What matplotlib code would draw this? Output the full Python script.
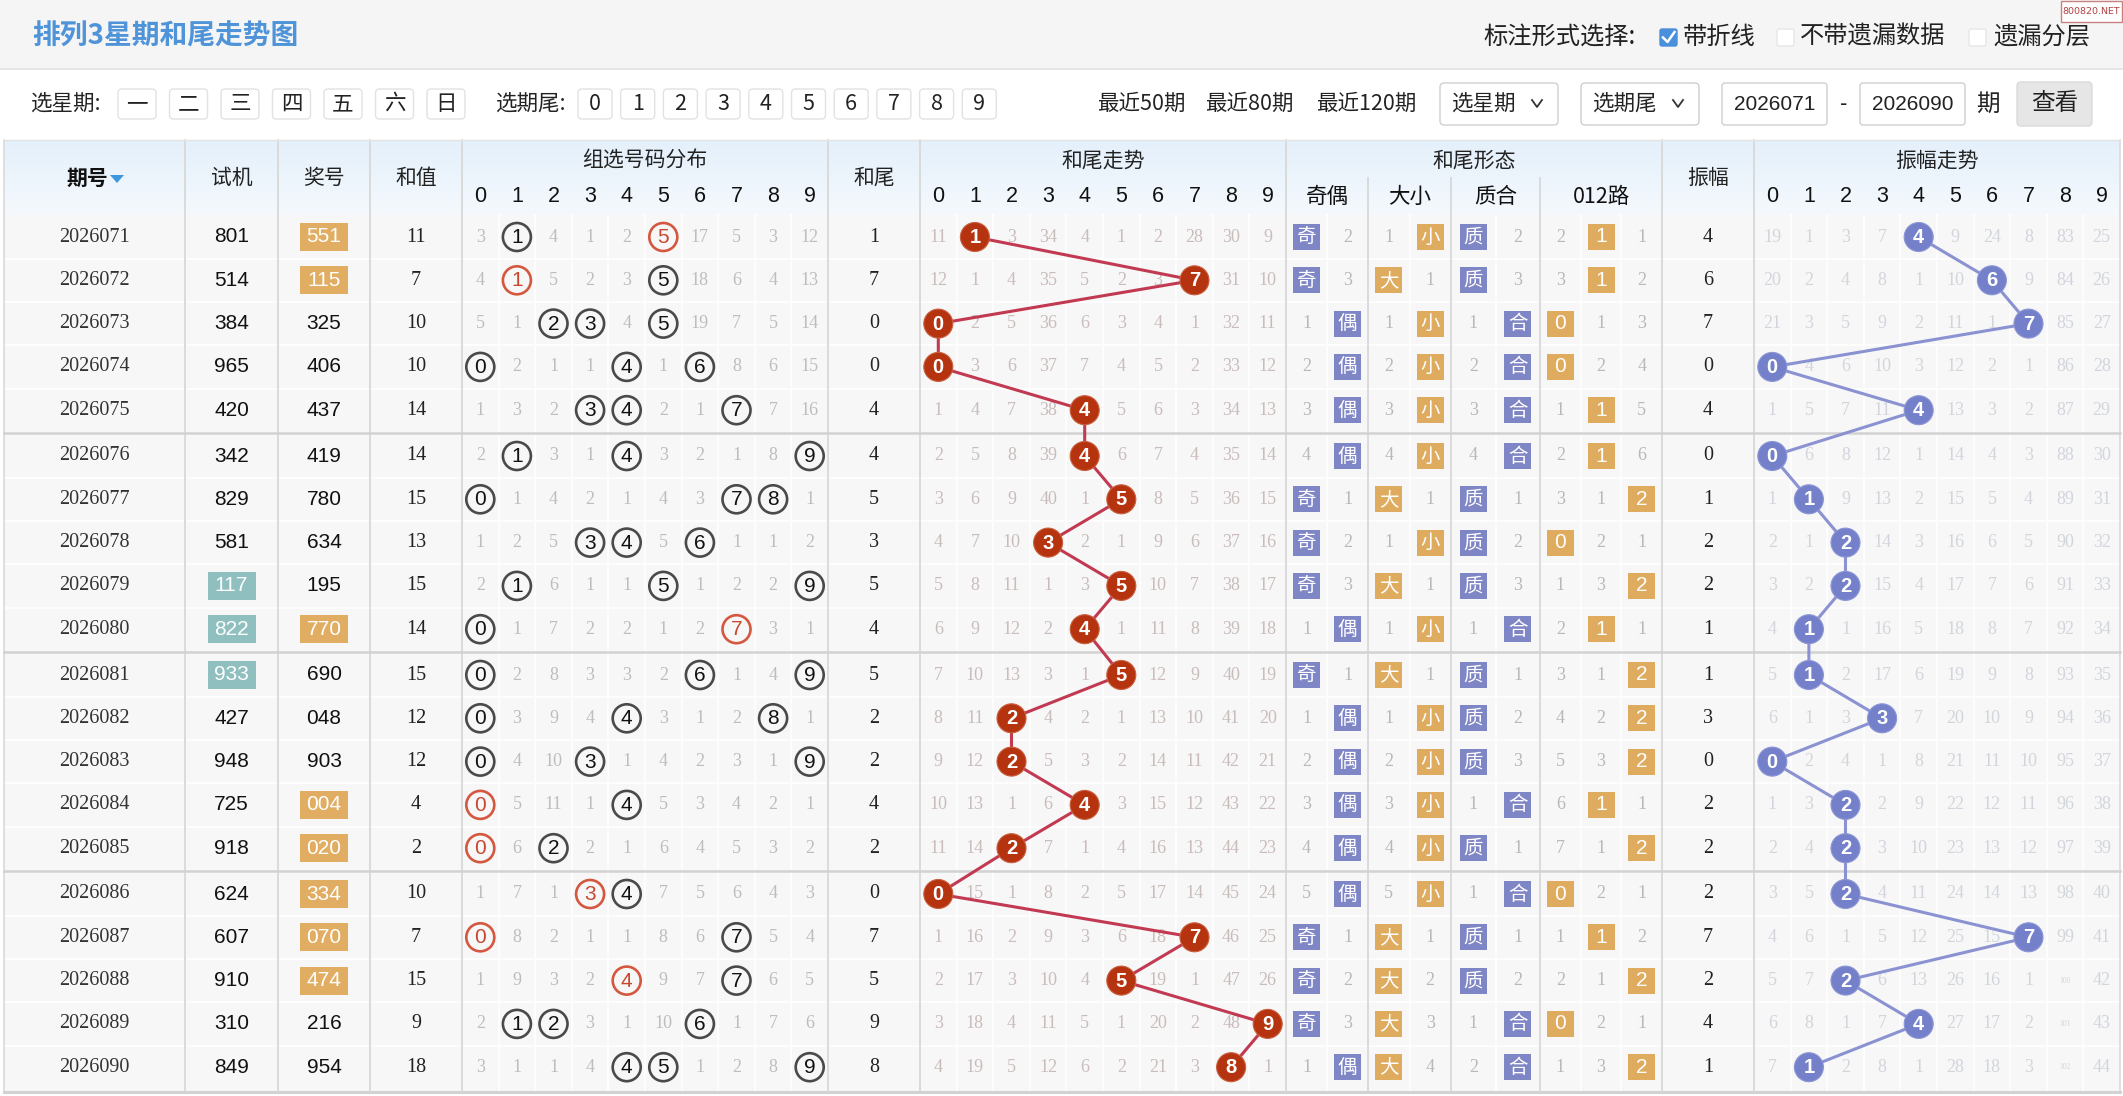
import matplotlib
matplotlib.use('Agg')
import matplotlib.pyplot as plt
from matplotlib.patches import Rectangle, Circle, FancyBboxPatch, Polygon
from matplotlib.colors import LinearSegmentedColormap
import numpy as np

plt.rcParams['font.family'] = ['Noto Sans CJK SC', 'DejaVu Sans']

# ---------------- data ----------------
periods = ['2026071', '2026072', '2026073', '2026074', '2026075', '2026076', '2026077',
           '2026078', '2026079', '2026080', '2026081', '2026082', '2026083', '2026084',
           '2026085', '2026086', '2026087', '2026088', '2026089', '2026090']
trial = ['801', '514', '384', '965', '420', '342', '829', '581', '117', '822',
         '933', '427', '948', '725', '918', '624', '607', '910', '310', '849']
draws = ['551', '115', '325', '406', '437', '419', '780', '634', '195', '770',
         '690', '048', '903', '004', '020', '334', '070', '474', '216', '954']
sums = [11, 7, 10, 10, 14, 14, 15, 13, 15, 14, 15, 12, 12, 4, 2, 10, 7, 15, 9, 18]
tails = [1, 7, 0, 0, 4, 4, 5, 3, 5, 4, 5, 2, 2, 4, 2, 0, 7, 5, 9, 8]
amps = [4, 6, 7, 0, 4, 0, 1, 2, 2, 1, 1, 3, 0, 2, 2, 2, 7, 2, 4, 1]

# omission values (0 marks the hit cell)
zx_miss = [
    [3, 0, 4, 1, 2, 0, 17, 5, 3, 12], [4, 0, 5, 2, 3, 0, 18, 6, 4, 13],
    [5, 1, 0, 0, 4, 0, 19, 7, 5, 14], [0, 2, 1, 1, 0, 1, 0, 8, 6, 15],
    [1, 3, 2, 0, 0, 2, 1, 0, 7, 16], [2, 0, 3, 1, 0, 3, 2, 1, 8, 0],
    [0, 1, 4, 2, 1, 4, 3, 0, 0, 1], [1, 2, 5, 0, 0, 5, 0, 1, 1, 2],
    [2, 0, 6, 1, 1, 0, 1, 2, 2, 0], [0, 1, 7, 2, 2, 1, 2, 0, 3, 1],
    [0, 2, 8, 3, 3, 2, 0, 1, 4, 0], [0, 3, 9, 4, 0, 3, 1, 2, 0, 1],
    [0, 4, 10, 0, 1, 4, 2, 3, 1, 0], [0, 5, 11, 1, 0, 5, 3, 4, 2, 1],
    [0, 6, 0, 2, 1, 6, 4, 5, 3, 2], [1, 7, 1, 0, 0, 7, 5, 6, 4, 3],
    [0, 8, 2, 1, 1, 8, 6, 0, 5, 4], [1, 9, 3, 2, 0, 9, 7, 0, 6, 5],
    [2, 0, 0, 3, 1, 10, 0, 1, 7, 6], [3, 1, 1, 4, 0, 0, 1, 2, 8, 0]]
tail_miss = [
    [11, 0, 3, 34, 4, 1, 2, 28, 30, 9], [12, 1, 4, 35, 5, 2, 3, 0, 31, 10],
    [0, 2, 5, 36, 6, 3, 4, 1, 32, 11], [0, 3, 6, 37, 7, 4, 5, 2, 33, 12],
    [1, 4, 7, 38, 0, 5, 6, 3, 34, 13], [2, 5, 8, 39, 0, 6, 7, 4, 35, 14],
    [3, 6, 9, 40, 1, 0, 8, 5, 36, 15], [4, 7, 10, 0, 2, 1, 9, 6, 37, 16],
    [5, 8, 11, 1, 3, 0, 10, 7, 38, 17], [6, 9, 12, 2, 0, 1, 11, 8, 39, 18],
    [7, 10, 13, 3, 1, 0, 12, 9, 40, 19], [8, 11, 0, 4, 2, 1, 13, 10, 41, 20],
    [9, 12, 0, 5, 3, 2, 14, 11, 42, 21], [10, 13, 1, 6, 0, 3, 15, 12, 43, 22],
    [11, 14, 0, 7, 1, 4, 16, 13, 44, 23], [0, 15, 1, 8, 2, 5, 17, 14, 45, 24],
    [1, 16, 2, 9, 3, 6, 18, 0, 46, 25], [2, 17, 3, 10, 4, 0, 19, 1, 47, 26],
    [3, 18, 4, 11, 5, 1, 20, 2, 48, 0], [4, 19, 5, 12, 6, 2, 21, 3, 0, 1]]
amp_miss = [
    [19, 1, 3, 7, 0, 9, 24, 8, 83, 25], [20, 2, 4, 8, 1, 10, 0, 9, 84, 26],
    [21, 3, 5, 9, 2, 11, 1, 0, 85, 27], [0, 4, 6, 10, 3, 12, 2, 1, 86, 28],
    [1, 5, 7, 11, 0, 13, 3, 2, 87, 29], [0, 6, 8, 12, 1, 14, 4, 3, 88, 30],
    [1, 0, 9, 13, 2, 15, 5, 4, 89, 31], [2, 1, 0, 14, 3, 16, 6, 5, 90, 32],
    [3, 2, 0, 15, 4, 17, 7, 6, 91, 33], [4, 0, 1, 16, 5, 18, 8, 7, 92, 34],
    [5, 0, 2, 17, 6, 19, 9, 8, 93, 35], [6, 1, 3, 0, 7, 20, 10, 9, 94, 36],
    [0, 2, 4, 1, 8, 21, 11, 10, 95, 37], [1, 3, 0, 2, 9, 22, 12, 11, 96, 38],
    [2, 4, 0, 3, 10, 23, 13, 12, 97, 39], [3, 5, 0, 4, 11, 24, 14, 13, 98, 40],
    [4, 6, 1, 5, 12, 25, 15, 0, 99, 41], [5, 7, 0, 6, 13, 26, 16, 1, 100, 42],
    [6, 8, 1, 7, 0, 27, 17, 2, 101, 43], [7, 0, 2, 8, 1, 28, 18, 3, 102, 44]]
oe_miss = [2, 3, 1, 2, 3, 4, 1, 2, 3, 1, 1, 1, 2, 3, 4, 5, 1, 2, 3, 1]
bs_miss = [1, 1, 1, 2, 3, 4, 1, 1, 1, 1, 1, 1, 2, 3, 4, 5, 1, 2, 3, 4]
pc_miss = [2, 3, 1, 2, 3, 4, 1, 2, 3, 1, 1, 2, 3, 1, 1, 1, 1, 2, 1, 2]
r012_miss = [[2, 0, 1], [3, 0, 2], [0, 1, 3], [0, 2, 4], [1, 0, 5], [2, 0, 6], [3, 1, 0],
             [0, 2, 1], [1, 3, 0], [2, 0, 1], [3, 1, 0], [4, 2, 0], [5, 3, 0], [6, 0, 1],
             [7, 1, 0], [0, 2, 1], [1, 0, 2], [2, 1, 0], [0, 2, 1], [1, 3, 0]]
primes = {1, 2, 3, 5, 7}

weekdays = ['一', '二', '三', '四', '五', '六', '日']
tail_buttons = [str(d) for d in range(10)]
digit_labels = [str(d) for d in range(10)]

# ---------------- layout ----------------
W, H = 2123, 1096
fig = plt.figure(figsize=(W / 100, H / 100), dpi=100)
ax = fig.add_axes([0, 0, 1, 1])
ax.set_xlim(0, W)
ax.set_ylim(H, 0)
ax.axis('off')

SERIF = 'Liberation Serif'
SANS = 'Liberation Sans'

Y0, ROW_H, GROUP_H = 237.0, 43.3, 219.0
TOP, HEAD_B, BOT = 140, 215, 1092
LEFT, RIGHT = 4, 2120


def row_y(i):
    return Y0 + GROUP_H * (i // 5) + ROW_H * (i % 5)


cols = {'qh': (LEFT, 185), 'sj': (185, 278), 'jh': (278, 370), 'hz': (370, 462),
        'zx': (462, 828), 'hw': (828, 920), 'hwt': (920, 1286),
        'oe': (1286, 1368), 'bs': (1368, 1451), 'pc': (1451, 1540), 'r012': (1540, 1662),
        'zf': (1662, 1754), 'zft': (1754, RIGHT)}


def cc(key):
    a, b = cols[key]
    return (a + b) / 2


def sub(key, n, k):
    a, b = cols[key]
    return a + (b - a) / n * (k + 0.5)


# ---------------- top band ----------------
ax.add_patch(Rectangle((0, 0), W, 69, fc='#f5f5f5', ec='none', zorder=0))
ax.plot([0, W], [69, 69], color='#e2e2e2', lw=1.2, zorder=1)
ax.text(32, 37, '排列3星期和尾走势图', fontsize=20, fontweight='bold', color='#4f94d8',
        ha='left', va='center')
ax.text(1483, 37, '标注形式选择:', fontsize=17.5, ha='left', va='center', color='#222')
ax.add_patch(FancyBboxPatch((1660, 29), 17, 17, boxstyle='round,pad=0,rounding_size=2',
                            fc='#4a8fdc', ec='#4a8fdc', zorder=2))
ax.plot([1663, 1667.5, 1674.5], [37.5, 42, 32], color='white', lw=1.8, zorder=3)
ax.text(1683, 37, '带折线', fontsize=17.5, ha='left', va='center', color='#222')
ax.add_patch(FancyBboxPatch((1777, 29), 17, 17, boxstyle='round,pad=0,rounding_size=2',
                            fc='white', ec='#e6e6e6', zorder=2))
ax.text(1800, 37, '不带遗漏数据', fontsize=17.5, ha='left', va='center', color='#222')
ax.add_patch(FancyBboxPatch((1969, 29), 17, 17, boxstyle='round,pad=0,rounding_size=2',
                            fc='white', ec='#e6e6e6', zorder=2))
ax.text(1993, 37, '遗漏分层', fontsize=17.5, ha='left', va='center', color='#222')
ax.add_patch(Rectangle((2061, 0.5), 61, 21, fc='white', ec='#c98080', lw=1, zorder=2))
ax.text(2091.5, 11, '800820.NET', fontsize=6.8, color='#b04040', ha='center', va='center',
        family='DejaVu Sans', zorder=3)

# ---------------- controls row ----------------
CY = 104
ax.text(30, CY, '选星期:', fontsize=15.5, ha='left', va='center', color='#222')
for k, lab in enumerate(weekdays):
    x = 137 + 51.5 * k
    ax.add_patch(FancyBboxPatch((x - 19, CY - 15), 38, 30, boxstyle='round,pad=0,rounding_size=4',
                                fc='white', ec='#e2e2e2', lw=1, zorder=2))
    ax.text(x, CY, lab, fontsize=15.5, ha='center', va='center', color='#222', zorder=3)
ax.text(495, CY, '选期尾:', fontsize=15.5, ha='left', va='center', color='#222')
for k, lab in enumerate(tail_buttons):
    x = 595 + 42.7 * k
    ax.add_patch(FancyBboxPatch((x - 17, CY - 15), 34, 30, boxstyle='round,pad=0,rounding_size=4',
                                fc='white', ec='#e2e2e2', lw=1, zorder=2))
    ax.text(x, CY, lab, fontsize=15.5, ha='center', va='center', color='#222', zorder=3)
for x, lab in [(1097, '最近50期'), (1205, '最近80期'), (1316, '最近120期')]:
    ax.text(x, CY, lab, fontsize=15.5, ha='left', va='center', color='#222')
for x0, x1, lab in [(1440, 1558, '选星期'), (1581, 1699, '选期尾')]:
    ax.add_patch(FancyBboxPatch((x0, CY - 21), x1 - x0, 42, boxstyle='round,pad=0,rounding_size=4',
                                fc='white', ec='#cfcfcf', lw=1, zorder=2))
    ax.text(x0 + 11, CY, lab, fontsize=15.5, ha='left', va='center', color='#222', zorder=3)
    ax.plot([x1 - 26, x1 - 21, x1 - 16], [CY - 4, CY + 3, CY - 4], color='#333', lw=1.3, zorder=3)
for x0, x1, lab in [(1722, 1827, '2026071'), (1860, 1965, '2026090')]:
    ax.add_patch(FancyBboxPatch((x0, CY - 21), x1 - x0, 42, boxstyle='round,pad=0,rounding_size=3',
                                fc='white', ec='#cfcfcf', lw=1, zorder=2))
    ax.text((x0 + x1) / 2, CY, lab, fontsize=15, ha='center', va='center', color='#222',
            family=SANS, zorder=3)
ax.text(1844, CY, '-', fontsize=15, ha='center', va='center', color='#222')
ax.text(1988, CY, '期', fontsize=17, ha='center', va='center', color='#222')
ax.add_patch(FancyBboxPatch((2017, CY - 22), 75, 44, boxstyle='round,pad=0,rounding_size=4',
                            fc='#e6e6e6', ec='#dadada', lw=1, zorder=2))
ax.text(2054.5, CY, '查看', fontsize=17, ha='center', va='center', color='#222', zorder=3)

# ---------------- table background ----------------
grad = np.linspace(0, 1, 60).reshape(-1, 1)
hcmap = LinearSegmentedColormap.from_list('h', ['#e4f0fb', '#f5f9fd'])
ax.imshow(grad, extent=[LEFT, RIGHT, HEAD_B, TOP], cmap=hcmap, aspect='auto',
          origin='upper', zorder=0)
ax.add_patch(Rectangle((LEFT, HEAD_B), RIGHT - LEFT, BOT - HEAD_B, fc='#f7f7f7', ec='none', zorder=0))
ax.set_xlim(0, W)
ax.set_ylim(H, 0)

# faint cell borders
for i in range(20):
    y = row_y(i)
    if i % 5 != 4:
        ax.plot([LEFT, RIGHT], [y + ROW_H / 2, y + ROW_H / 2], color='white', lw=1.2, zorder=1)
for key in ['zx', 'hwt', 'zft']:
    a, b = cols[key]
    for d in range(1, 10):
        x = a + (b - a) / 10 * d
        ax.plot([x, x], [HEAD_B, BOT], color='white', lw=1.2, zorder=1)
for key, n in [('oe', 2), ('bs', 2), ('pc', 2), ('r012', 3)]:
    a, b = cols[key]
    for d in range(1, n):
        x = a + (b - a) / n * d
        ax.plot([x, x], [HEAD_B, BOT], color='white', lw=1.2, zorder=1)

# major dividers
for x in [185, 278, 370, 462, 828, 920, 1286, 1662, 1754]:
    ax.plot([x, x], [TOP, BOT], color='#d8d8d8', lw=1.3, zorder=1.5)
for x in [1368, 1451, 1540]:
    ax.plot([x, x], [178, BOT], color='#d8d8d8', lw=1.3, zorder=1.5)
ax.plot([LEFT, LEFT], [TOP, BOT], color='#dcdcdc', lw=1.3, zorder=1.5)
ax.plot([RIGHT, RIGHT], [TOP, BOT], color='#dcdcdc', lw=1.3, zorder=1.5)
ax.plot([LEFT, RIGHT], [TOP, TOP], color='#e3e3e3', lw=1.0, zorder=1.5)
for g in range(1, 4):
    y = (row_y(5 * g - 1) + row_y(5 * g)) / 2
    ax.plot([LEFT, RIGHT], [y, y], color='#d2d2d2', lw=1.8, zorder=1.5)
ax.plot([LEFT, RIGHT], [BOT, BOT], color='#d2d2d2', lw=2.2, zorder=1.5)

# ---------------- header ----------------
HFS = 15
ax.text(87, 178, '期号', fontsize=HFS, fontweight='bold', ha='center', va='center', color='#111')
ax.add_patch(Polygon([[110, 175], [124, 175], [117, 183]], closed=True, fc='#3f97e0', ec='none'))
for key, lab in [('sj', '试机'), ('jh', '奖号'), ('hz', '和值'), ('hw', '和尾'), ('zf', '振幅')]:
    ax.text(cc(key), 178, lab, fontsize=HFS, ha='center', va='center', color='#222')
ax.text(cc('zx'), 161, '组选号码分布', fontsize=HFS, ha='center', va='center', color='#222')
ax.text(cc('hwt'), 161, '和尾走势', fontsize=HFS, ha='center', va='center', color='#222')
ax.text((1286 + 1662) / 2, 161, '和尾形态', fontsize=HFS, ha='center', va='center', color='#222')
ax.text(cc('zft'), 161, '振幅走势', fontsize=HFS, ha='center', va='center', color='#222')
for key in ['zx', 'hwt', 'zft']:
    for d in range(10):
        ax.text(sub(key, 10, d), 197, digit_labels[d], fontsize=15.5, ha='center', va='center',
                color='#111', family=SANS)
for key, lab in [('oe', '奇偶'), ('bs', '大小'), ('pc', '质合'), ('r012', '012路')]:
    ax.text(cc(key), 197, lab, fontsize=15.5, ha='center', va='center', color='#111')

# ---------------- body ----------------
MISS_FS = 13
C_MISS = '#bdbdbd'
C_TAILMISS = '#c9bcba'
C_AMPMISS = '#d2d5dc'
C_FORM = '#b8b8b8'
BALL_R = 14.5
BLUE_BOX = '#7f86c6'
ORANGE_BOX = '#dfab5e'


def box(x, y, w, h, color, label, fs=14, family=None):
    ax.add_patch(Rectangle((x - w / 2, y - h / 2), w, h, fc=color, ec='none', zorder=3))
    kw = {}
    if family:
        kw['family'] = family
    ax.text(x, y, label, fontsize=fs, ha='center', va='center', color='white', zorder=4, **kw)


tail_pts = []
amp_pts = []
for i in range(20):
    y = row_y(i)
    ax.text(cc('qh'), y, periods[i], fontsize=14.5, family=SERIF, ha='center', va='center', color='#333')
    # trial
    if len(set(trial[i])) < 3:
        box(cc('sj'), y, 48, 28, '#8fbfbf', trial[i], fs=15, family=SANS)
    else:
        ax.text(cc('sj'), y, trial[i], fontsize=15, family=SANS, ha='center', va='center', color='#111')
    # draw
    if len(set(draws[i])) < 3:
        box(cc('jh'), y, 48, 28, '#e0ad62', draws[i], fs=15, family=SANS)
    else:
        ax.text(cc('jh'), y, draws[i], fontsize=15, family=SANS, ha='center', va='center', color='#111')
    ax.text(cc('hz'), y, str(sums[i]), fontsize=14.5, family=SERIF, ha='center', va='center', color='#222')
    # 组选 distribution
    digs = [int(c) for c in draws[i]]
    for d in range(10):
        x = sub('zx', 10, d)
        if d in digs:
            red = digs.count(d) >= 2
            ec = '#d4573f' if red else '#4a4a4a'
            ax.add_patch(Circle((x, y), 14, fc='none', ec=ec, lw=1.9, zorder=3))
            ax.text(x, y + 0.5, str(d), fontsize=15, family=SANS, ha='center', va='center',
                    color='#c9472f' if red else '#111', zorder=4)
        else:
            ax.text(x, y, str(zx_miss[i][d]), fontsize=MISS_FS, family=SERIF, ha='center',
                    va='center', color=C_MISS, zorder=2)
    ax.text(cc('hw'), y, str(tails[i]), fontsize=14.5, family=SERIF, ha='center', va='center', color='#222')
    # tail trend
    for d in range(10):
        x = sub('hwt', 10, d)
        if d == tails[i]:
            tail_pts.append((x, y))
        else:
            ax.text(x, y, str(tail_miss[i][d]), fontsize=MISS_FS, family=SERIF, ha='center',
                    va='center', color=C_TAILMISS, zorder=2)
    # forms
    t = tails[i]
    odd = t % 2 == 1
    if odd:
        box(sub('oe', 2, 0), y, 27, 26, BLUE_BOX, '奇')
        ax.text(sub('oe', 2, 1), y, str(oe_miss[i]), fontsize=MISS_FS, family=SERIF, ha='center', va='center', color=C_FORM)
    else:
        ax.text(sub('oe', 2, 0), y, str(oe_miss[i]), fontsize=MISS_FS, family=SERIF, ha='center', va='center', color=C_FORM)
        box(sub('oe', 2, 1), y, 27, 26, BLUE_BOX, '偶')
    if t >= 5:
        box(sub('bs', 2, 0), y, 27, 26, ORANGE_BOX, '大')
        ax.text(sub('bs', 2, 1), y, str(bs_miss[i]), fontsize=MISS_FS, family=SERIF, ha='center', va='center', color=C_FORM)
    else:
        ax.text(sub('bs', 2, 0), y, str(bs_miss[i]), fontsize=MISS_FS, family=SERIF, ha='center', va='center', color=C_FORM)
        box(sub('bs', 2, 1), y, 27, 26, ORANGE_BOX, '小')
    if t in primes:
        box(sub('pc', 2, 0), y, 27, 26, BLUE_BOX, '质')
        ax.text(sub('pc', 2, 1), y, str(pc_miss[i]), fontsize=MISS_FS, family=SERIF, ha='center', va='center', color=C_FORM)
    else:
        ax.text(sub('pc', 2, 0), y, str(pc_miss[i]), fontsize=MISS_FS, family=SERIF, ha='center', va='center', color=C_FORM)
        box(sub('pc', 2, 1), y, 27, 26, BLUE_BOX, '合')
    for r in range(3):
        x = sub('r012', 3, r)
        if t % 3 == r:
            box(x, y, 27, 26, ORANGE_BOX, str(r), fs=15, family=SANS)
        else:
            ax.text(x, y, str(r012_miss[i][r]), fontsize=MISS_FS, family=SERIF, ha='center', va='center', color=C_FORM)
    ax.text(cc('zf'), y, str(amps[i]), fontsize=14.5, family=SERIF, ha='center', va='center', color='#222')
    # amplitude trend
    for d in range(10):
        x = sub('zft', 10, d)
        if d == amps[i]:
            amp_pts.append((x, y))
        else:
            v = amp_miss[i][d]
            fs = MISS_FS if v < 100 else 5.5
            ax.text(x, y, str(v), fontsize=fs, family=SERIF, ha='center', va='center',
                    color=C_AMPMISS, zorder=2)

# trend lines and balls
tx, ty = zip(*tail_pts)
ax.plot(tx, ty, color='#c23a52', lw=2.2, zorder=3, solid_capstyle='round')
for (x, y), v in zip(tail_pts, tails):
    ax.add_patch(Circle((x, y), BALL_R, fc='#b5330f', ec='#c9603f', lw=0.8, zorder=4))
    ax.text(x, y + 0.5, str(v), fontsize=14.5, fontweight='bold', family=SANS, color='white',
            ha='center', va='center', zorder=5)
axp, ayp = zip(*amp_pts)
ax.plot(axp, ayp, color='#8a92d2', lw=2.2, zorder=3, solid_capstyle='round')
for (x, y), v in zip(amp_pts, amps):
    ax.add_patch(Circle((x, y), BALL_R, fc='#7480c9', ec='#8c96d6', lw=0.8, zorder=4))
    ax.text(x, y + 0.5, str(v), fontsize=14.5, fontweight='bold', family=SANS, color='white',
            ha='center', va='center', zorder=5)

fig.savefig('out.png', dpi=100)
